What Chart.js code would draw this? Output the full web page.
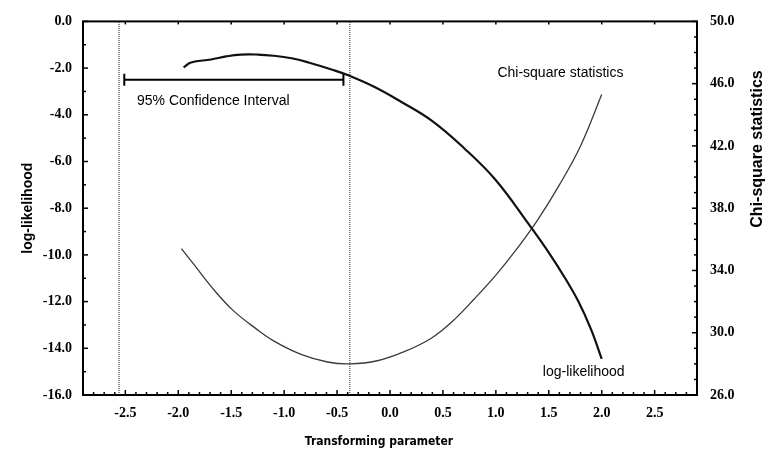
<!DOCTYPE html>
<html>
<head>
<meta charset="utf-8">
<script src="https://cdn.jsdelivr.net/npm/chart.js@4.4.1/dist/chart.umd.min.js"></script>
<style>
  body { margin: 0; background: #fff; }
  canvas { display: block; }
</style>
</head>
<body>
<canvas id="likelihoodChart" width="773" height="450"></canvas>
<script>
// transforming parameter grid and the two curves
var llParam = [-1.95, -1.88, -1.69, -1.55, -1.41, -1.25, -1.10, -0.93, -0.77, -0.53, -0.40, -0.15, 0.10, 0.40, 0.70, 1.00, 1.30, 1.50, 1.65, 1.78, 1.90, 2.00];
var logLik = [-1.97, -1.76, -1.63, -1.50, -1.42, -1.42, -1.47, -1.58, -1.76, -2.09, -2.30, -2.80, -3.43, -4.27, -5.43, -6.80, -8.62, -9.90, -10.97, -12.00, -13.20, -14.45];

var chiParam = [-1.97, -1.86, -1.65, -1.48, -1.27, -1.10, -0.84, -0.59, -0.38, -0.12, 0.14, 0.39, 0.58, 0.80, 1.00, 1.20, 1.40, 1.60, 1.80, 2.00];
var chiSquare = [35.40, 34.45, 32.65, 31.42, 30.28, 29.48, 28.61, 28.12, 28.00, 28.20, 28.80, 29.65, 30.67, 32.20, 33.70, 35.40, 37.30, 39.50, 42.00, 45.30];

// confidence interval: dotted bounds and the bracket drawn at log-likelihood -2.5
var ciBounds = [-2.56, -0.38];
var ciBar = [-2.51, -0.44];
var ciLevel = -2.5;

// tick labels
var xTicks = [-2.5, -2.0, -1.5, -1.0, -0.5, 0.0, 0.5, 1.0, 1.5, 2.0, 2.5];
var llTicks = [0, -2, -4, -6, -8, -10, -12, -14, -16];
var chiTicks = [50, 46, 42, 38, 34, 30, 26];

function pairs(xs, ys) {
    var out = [];
    for (var i = 0; i < xs.length; i++) out.push({x: xs[i], y: ys[i]});
    return out;
}

function setTicks(values) {
    return function(scale) {
        scale.ticks = values.map(function(v){ return {value: v}; });
    };
}

var tickFont = {family: 'Liberation Serif', size: 14, weight: 'bold'};

// frame, inward tick marks and the text labels inside the plot
var decorations = {
    id: 'decorations',
    afterDraw: function(chart) {
        var ctx = chart.ctx, a = chart.chartArea, s = chart.scales;
        ctx.save();
        ctx.strokeStyle = '#000';
        ctx.lineWidth = 1.5;
        function seg(x1, y1, x2, y2) {
            ctx.beginPath(); ctx.moveTo(x1, y1); ctx.lineTo(x2, y2); ctx.stroke();
        }
        var i, px;
        for (i = -29; i <= 29; i++) {
            px = s.x.getPixelForValue(i / 10);
            seg(px, a.bottom, px, a.bottom - (i % 5 === 0 ? 5 : 3));
            if (i % 5 === 0) seg(px, a.top, px, a.top + 3);
        }
        for (i = 0; i >= -16; i--) {
            px = s.y.getPixelForValue(i);
            seg(a.left, px, a.left + (i % 2 === 0 ? 5 : 3), px);
        }
        for (i = 26; i <= 50; i++) {
            px = s.y2.getPixelForValue(i);
            seg(a.right, px, a.right - (i % 4 === 2 ? 5 : 3), px);
        }
        ctx.lineWidth = 2;
        ctx.strokeRect(a.left, a.top, a.right - a.left, a.bottom - a.top);

        ctx.fillStyle = '#000';
        ctx.textBaseline = 'middle';
        ctx.font = '14px "Liberation Sans", Arial, sans-serif';
        ctx.textAlign = 'left';
        ctx.fillText('95% Confidence Interval', s.x.getPixelForValue(-2.39), s.y.getPixelForValue(-3.43));
        ctx.textAlign = 'center';
        ctx.fillText('Chi-square statistics', s.x.getPixelForValue(1.61), s.y2.getPixelForValue(46.7));
        ctx.fillText('log-likelihood', s.x.getPixelForValue(1.83), s.y.getPixelForValue(-15.04));

        ctx.font = 'bold 12px "DejaVu Sans Condensed", "Liberation Sans Narrow", sans-serif';
        ctx.fillText('Transforming parameter', 379, 442);

        ctx.font = 'bold 14px "Liberation Sans", Arial, sans-serif';
        ctx.translate(28, (a.top + a.bottom) / 2);
        ctx.rotate(-Math.PI / 2);
        ctx.fillText('log-likelihood', 0, 0);
        ctx.restore();

        ctx.save();
        ctx.fillStyle = '#000';
        ctx.textAlign = 'center';
        ctx.textBaseline = 'middle';
        ctx.font = 'bold 16px "Liberation Sans", Arial, sans-serif';
        ctx.translate(758, 149);
        ctx.rotate(-Math.PI / 2);
        ctx.fillText('Chi-square statistics', 0, 0);
        ctx.restore();
    }
};

var chartdata = {
    datasets: [
        {
            label: 'log-likelihood',
            data: pairs(llParam, logLik),
            yAxisID: 'y',
            borderColor: '#111',
            borderWidth: 2.2,
            pointRadius: 0,
            tension: 0.4
        },
        {
            label: 'Chi-square statistics',
            data: pairs(chiParam, chiSquare),
            yAxisID: 'y2',
            borderColor: '#3a3a3a',
            borderWidth: 1.3,
            pointRadius: 0,
            tension: 0.4
        },
        {
            label: 'lower bound',
            data: [{x: ciBounds[0], y: -16}, {x: ciBounds[0], y: 0}],
            yAxisID: 'y',
            borderColor: '#777',
            borderWidth: 1.6,
            borderDash: [1, 1],
            pointRadius: 0
        },
        {
            label: 'upper bound',
            data: [{x: ciBounds[1], y: -16}, {x: ciBounds[1], y: 0}],
            yAxisID: 'y',
            borderColor: '#777',
            borderWidth: 1.6,
            borderDash: [1, 1],
            pointRadius: 0
        },
        {
            label: '95% Confidence Interval',
            data: [{x: ciBar[0], y: ciLevel}, {x: ciBar[1], y: ciLevel}],
            yAxisID: 'y',
            borderColor: '#000',
            borderWidth: 2,
            pointStyle: 'line',
            rotation: 90,
            pointRadius: 6,
            pointBorderWidth: 2,
            pointBorderColor: '#000'
        }
    ]
};

var options = {
    responsive: false,
    animation: false,
    layout: {padding: {top: 13, left: 0, right: 0, bottom: 0}},
    plugins: {legend: {display: false}, tooltip: {enabled: false}},
    scales: {
        x: {
            type: 'linear',
            min: -2.9,
            max: 2.9,
            afterBuildTicks: setTicks(xTicks),
            afterFit: function(scale){ scale.height = 55; },
            grid: {display: false, drawTicks: false},
            border: {display: false},
            ticks: {
                padding: 10,
                color: '#000',
                font: tickFont,
                maxRotation: 0,
                callback: function(v){ return Number(v).toFixed(1); }
            }
        },
        y: {
            position: 'left',
            min: -16,
            max: 0,
            afterBuildTicks: setTicks(llTicks),
            afterFit: function(scale){ scale.width = 83; },
            grid: {display: false, drawTicks: false},
            border: {display: false},
            ticks: {
                padding: 11,
                color: '#000',
                font: tickFont,
                callback: function(v){ return Number(v).toFixed(1); }
            }
        },
        y2: {
            position: 'right',
            min: 26,
            max: 50,
            afterBuildTicks: setTicks(chiTicks),
            afterFit: function(scale){ scale.width = 76; },
            grid: {display: false, drawTicks: false},
            border: {display: false},
            ticks: {
                padding: 13,
                color: '#000',
                font: tickFont,
                callback: function(v){ return Number(v).toFixed(1); }
            }
        }
    }
};

var ctx = document.getElementById('likelihoodChart');
var chart = new Chart(ctx, {
    type: 'line',
    data: chartdata,
    options: options,
    plugins: [decorations]
});
</script>
</body>
</html>
